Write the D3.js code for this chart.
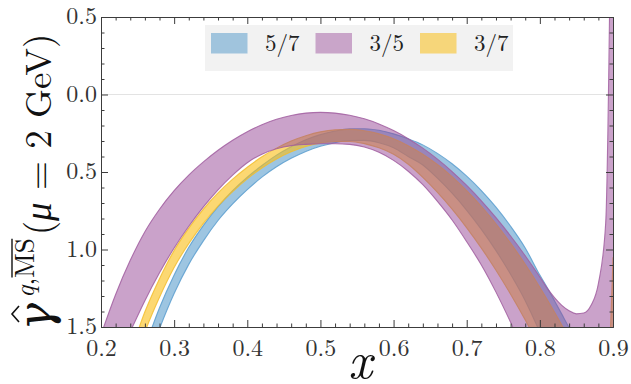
<!DOCTYPE html>
<html>
<head>
<meta charset="utf-8">
<script src="https://cdn.jsdelivr.net/npm/d3@7/dist/d3.min.js"></script>
<style>
  body { margin: 0; background: #fff; }
  svg { display: block; }
</style>
</head>
<body>
<svg id="chart" width="631" height="384"></svg>
<script>
// Momentum fraction grid shared by all bands
const xs = [0.20,0.22,0.24,0.26,0.28,0.30,0.32,0.34,0.36,0.38,0.40,0.42,0.44,0.46,0.48,0.50,
            0.52,0.54,0.56,0.58,0.60,0.62,0.64,0.66,0.68,0.70,0.72,0.74,0.76,0.78,0.80,
            0.81,0.82,0.83,0.84,0.85,0.86,0.87,0.88,0.89,0.90];

// Band 5/7: upper and lower edges
const band57Hi = [-2.5,-2.2,-1.91,-1.632,-1.376,-1.164,-0.986,-0.844,-0.723,-0.621,-0.534,-0.458,-0.391,-0.337,-0.292,-0.259,
                  -0.236,-0.222,-0.221,-0.231,-0.254,-0.286,-0.325,-0.38,-0.447,-0.527,-0.62,-0.727,-0.85,-0.99,-1.165,
                  -1.245,-1.33,-1.417,-1.505,-1.60,-1.69,-1.79,-1.89,-2.0,-2.1];
const band57Lo = [-2.7,-2.35,-2.06,-1.772,-1.511,-1.284,-1.096,-0.944,-0.813,-0.706,-0.614,-0.533,-0.466,-0.412,-0.367,-0.334,
                  -0.311,-0.297,-0.296,-0.311,-0.344,-0.40,-0.455,-0.54,-0.637,-0.747,-0.87,-1.007,-1.16,-1.33,-1.535,
                  -1.65,-1.76,-2.2,-2.2,-2.2,-2.2,-2.2,-2.2,-2.2,-2.2];

// Band 3/5: upper and lower edges
const band35Hi = [-1.55,-1.29,-1.07,-0.885,-0.74,-0.62,-0.52,-0.435,-0.36,-0.295,-0.24,-0.195,-0.16,-0.135,-0.12,-0.115,
                  -0.12,-0.134,-0.157,-0.19,-0.233,-0.285,-0.346,-0.417,-0.497,-0.587,-0.686,-0.795,-0.913,-1.04,-1.177,
                  -1.249,-1.31,-1.36,-1.395,-1.415,-1.41,-1.36,-1.22,-0.83,2.5];
const band35Lo = [-1.95,-1.74,-1.53,-1.33,-1.15,-0.99,-0.85,-0.725,-0.615,-0.52,-0.44,-0.385,-0.35,-0.33,-0.322,-0.318,
                  -0.318,-0.322,-0.339,-0.373,-0.425,-0.495,-0.582,-0.69,-0.81,-0.95,-1.10,-1.275,-1.47,-1.68,-1.88,
                  -1.97,-2.0,-2.0,-2.0,-2.0,-2.0,-2.0,-2.0,-2.0,-2.0];

// Band 3/7: upper and lower edges
const band37Hi = [-2.2,-1.95,-1.67,-1.402,-1.188,-1.006,-0.862,-0.739,-0.635,-0.546,-0.469,-0.402,-0.346,-0.300,-0.266,-0.241,
                  -0.228,-0.225,-0.234,-0.254,-0.286,-0.330,-0.385,-0.452,-0.530,-0.620,-0.721,-0.834,-0.959,-1.095,-1.243,
                  -1.322,-1.403,-1.487,-1.574,-1.66,-1.75,-1.84,-1.93,-2.0,-1.05];
const band37Lo = [-2.35,-2.09,-1.805,-1.532,-1.308,-1.116,-0.962,-0.831,-0.72,-0.626,-0.544,-0.474,-0.416,-0.37,-0.336,-0.313,
                  -0.303,-0.303,-0.317,-0.344,-0.386,-0.45,-0.535,-0.632,-0.74,-0.86,-0.991,-1.134,-1.289,-1.455,-1.633,
                  -1.74,-1.84,-2.2,-2.2,-2.2,-2.2,-2.2,-2.2,-2.2,-2.2];

const seriesNames = ["5/7", "3/5", "3/7"];
const xMajorTicks = [0.2,0.3,0.4,0.5,0.6,0.7,0.8,0.9];
const yMajorTicks = [0.5,0.0,-0.5,-1.0,-1.5];

// Drawing order: 5/7 at the back, 3/7 above it, 3/5 on top
const bands = [
  {name: "5/7", hi: band57Hi, lo: band57Lo, fill: "rgb(60,140,195)",  fillOpacity: 0.5, stroke: "#5a9ecf"},
  {name: "3/7", hi: band37Hi, lo: band37Lo, fill: "rgb(250,190,20)",  fillOpacity: 0.6, stroke: "#f2bd2e"},
  {name: "3/5", hi: band35Hi, lo: band35Lo, fill: "rgb(150,70,150)",  fillOpacity: 0.5, stroke: "#a15ea0"}
];

const svg = d3.select("#chart");
const plot = {left: 101, right: 613, top: 17, bottom: 327};

const x = d3.scaleLinear().domain([0.2, 0.9]).range([plot.left, plot.right]);
const y = d3.scaleLinear().domain([-1.5, 0.5]).range([plot.bottom, plot.top]);

const serif = '"Latin Modern Roman", "CMU Serif", "Liberation Serif", serif';
const axisColor = "#3c3c3c";

svg.append("defs").append("clipPath").attr("id", "plotClip")
  .append("rect")
  .attr("x", plot.left).attr("y", plot.top)
  .attr("width", plot.right - plot.left).attr("height", plot.bottom - plot.top);

// Horizontal reference line at zero
svg.append("line")
  .attr("x1", plot.left).attr("x2", plot.right)
  .attr("y1", y(0)).attr("y2", y(0))
  .attr("stroke", "#e3e3e3").attr("stroke-width", 1);

const bandLayer = svg.append("g").attr("clip-path", "url(#plotClip)");

const area = d3.area()
  .x((d, i) => x(xs[i]))
  .y0(d => y(d.lo))
  .y1(d => y(d.hi))
  .curve(d3.curveMonotoneX);

const edge = d3.line()
  .x(d => x(d[0]))
  .y(d => y(d[1]))
  .curve(d3.curveMonotoneX);

bands.forEach(b => {
  const pts = xs.map((_, i) => ({hi: b.hi[i], lo: b.lo[i]}));
  bandLayer.append("path")
    .attr("d", area(pts))
    .attr("fill", b.fill)
    .attr("fill-opacity", b.fillOpacity);
  [b.hi, b.lo].forEach(arr => {
    bandLayer.append("path")
      .attr("d", edge(xs.map((xv, i) => [xv, arr[i]])))
      .attr("fill", "none")
      .attr("stroke", b.stroke)
      .attr("stroke-width", 1.1)
      .attr("stroke-opacity", 0.85);
  });
});

// Axes with inward ticks on all four sides
const xMinor = d3.range(0.2, 0.9001, 0.02).filter(v => Math.abs(v * 10 - Math.round(v * 10)) > 1e-6);
const yMinor = d3.range(-1.5, 0.5001, 0.1).filter(v => Math.abs(v * 2 - Math.round(v * 2)) > 1e-6);
const fmtY = v => d3.format(".1f")(Math.abs(v));

function styleAxis(g) {
  g.attr("font-family", null);
  g.selectAll("path.domain").attr("stroke", axisColor).attr("stroke-width", 1);
  g.selectAll(".tick line").attr("stroke", axisColor).attr("stroke-width", 1);
  g.selectAll(".tick text").attr("fill", "#333")
    .style("font-family", serif).style("font-size", "24px");
}

// bottom
svg.append("g").attr("transform", `translate(0,${plot.bottom})`)
  .call(d3.axisBottom(x).tickValues(xMinor).tickSize(-3.5).tickSizeOuter(0).tickFormat(""))
  .call(styleAxis);
svg.append("g").attr("transform", `translate(0,${plot.bottom})`)
  .call(d3.axisBottom(x).tickValues(xMajorTicks).tickSize(-7).tickSizeOuter(0).tickPadding(12).tickFormat(d3.format(".1f")))
  .call(styleAxis);
// top
svg.append("g").attr("transform", `translate(0,${plot.top})`)
  .call(d3.axisTop(x).tickValues(xMinor).tickSize(-3.5).tickSizeOuter(0).tickFormat(""))
  .call(styleAxis);
svg.append("g").attr("transform", `translate(0,${plot.top})`)
  .call(d3.axisTop(x).tickValues(xMajorTicks).tickSize(-7).tickSizeOuter(0).tickFormat(""))
  .call(styleAxis);
// left
svg.append("g").attr("transform", `translate(${plot.left},0)`)
  .call(d3.axisLeft(y).tickValues(yMinor).tickSize(-3.5).tickSizeOuter(0).tickFormat(""))
  .call(styleAxis);
svg.append("g").attr("transform", `translate(${plot.left},0)`)
  .call(d3.axisLeft(y).tickValues(yMajorTicks).tickSize(-7).tickSizeOuter(0).tickPadding(4).tickFormat(fmtY))
  .call(styleAxis)
  .call(g => g.selectAll(".tick text").attr("dy", "0.28em"));
// right
svg.append("g").attr("transform", `translate(${plot.right},0)`)
  .call(d3.axisRight(y).tickValues(yMinor).tickSize(-3.5).tickSizeOuter(0).tickFormat(""))
  .call(styleAxis);
svg.append("g").attr("transform", `translate(${plot.right},0)`)
  .call(d3.axisRight(y).tickValues(yMajorTicks).tickSize(-7).tickSizeOuter(0).tickFormat(""))
  .call(styleAxis);

// Legend
const legend = svg.append("g").attr("transform", "translate(205,25)");
legend.append("rect").attr("width", 308).attr("height", 46).attr("fill", "#f2f2f2");
const legendOrder = seriesNames.map(n => bands.find(b => b.name === n));
const item = legend.selectAll("g.item").data(legendOrder).join("g")
  .attr("class", "item")
  .attr("transform", (d, i) => `translate(${6 + i * 104.5},8)`);
item.append("rect")
  .attr("width", 36.5).attr("height", 20.5)
  .attr("fill", d => d.fill).attr("fill-opacity", d => d.fillOpacity * 0.9);
item.append("text")
  .attr("x", 54).attr("y", 18)
  .style("font-family", serif).style("font-size", "23px").attr("fill", "#222")
  .text(d => d.name);

// x-axis title
svg.append("text")
  .attr("x", (plot.left + plot.right) / 2 + 3).attr("y", 378)
  .attr("text-anchor", "middle")
  .style("font-family", serif).style("font-style", "italic").style("font-size", "52px").attr("fill", "#111")
  .text("x");

// y-axis title, laid out along the rotated baseline (local x runs bottom-to-top)
const yT = svg.append("g").attr("transform", "translate(51,182) rotate(-90)");
const gamma = yT.append("text")
  .attr("y", 0)
  .style("font-family", '"DejaVu Serif", serif').style("font-style", "italic").style("font-size", "46px").attr("fill", "#111")
  .text("γ");
const sup = yT.append("text")
  .attr("y", -17)
  .style("font-family", serif).style("font-size", "27px").attr("fill", "#111");
sup.append("tspan").style("font-style", "italic").text("q");
sup.append("tspan").text(",");
sup.append("tspan").text("MS");
const mainT = yT.append("text")
  .attr("y", 0)
  .style("font-family", serif).style("font-size", "37px").attr("fill", "#111");
mainT.append("tspan").text("(");
mainT.append("tspan").style("font-style", "italic").text("μ");
mainT.append("tspan").text(" = 2 GeV)");

// Place the three pieces one after another, centred on the axis
const gLen = gamma.node().getComputedTextLength();
const sLen = sup.node().getComputedTextLength();
const mLen = mainT.node().getComputedTextLength();
const gapGS = 5, gapSM = 3;
const total = gLen + gapGS + sLen + gapSM + mLen;
const start = -total / 2;
gamma.attr("x", start);
sup.attr("x", start + gLen + gapGS);
mainT.attr("x", start + gLen + gapGS + sLen + gapSM);

const hatC = start + gLen * 0.6;
yT.append("path")
  .attr("d", d3.line()([[hatC - 8, -32], [hatC, -39], [hatC + 8, -32]]))
  .attr("fill", "none").attr("stroke", "#111").attr("stroke-width", 1.6);

const sNode = sup.node();
const iM = sNode.textContent.indexOf("MS");
const m0 = sNode.getStartPositionOfChar(iM);
const m1 = sNode.getEndPositionOfChar(iM + 1);
yT.append("line")
  .attr("x1", m0.x + 0.5).attr("x2", m1.x - 0.5)
  .attr("y1", m0.y - 22).attr("y2", m0.y - 22)
  .attr("stroke", "#111").attr("stroke-width", 1.4);
</script>
</body>
</html>
